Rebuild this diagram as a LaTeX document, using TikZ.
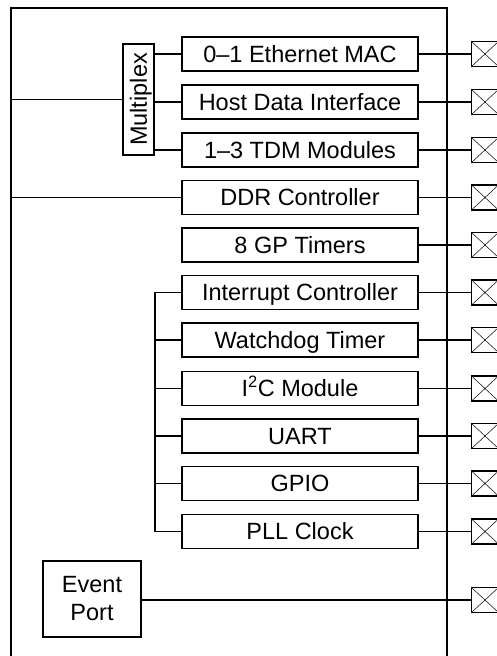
\documentclass[tikz,border=0pt]{standalone}
\usepackage{fontspec}
\setmainfont{Liberation Sans}
\begin{document}
\begin{tikzpicture}[x=1pt,y=-1pt,
  every path/.style={line width=1.7pt},
  lbl/.style={font=\fontsize{23.5}{28}\selectfont},
  mod/.style={draw, lbl, line width=1.7pt, minimum width=236pt, minimum height=34pt,
    inner sep=0pt, text height=16.8pt, text depth=0pt},
  pin/.style={draw, line width=1.5pt, minimum width=27pt, minimum height=25pt, inner sep=0pt,
    path picture={\draw[line width=0.5pt]
      (path picture bounding box.north west) -- (path picture bounding box.south east)
      (path picture bounding box.south west) -- (path picture bounding box.north east);}}]
\useasboundingbox (0,0) rectangle (496,656);

% device outline (open at the bottom)
\draw (11,656) -- (11,8) -- (447,8) -- (447,656);

% peripheral modules
\node[mod] (eth)  at (300,54)    {0--1 Ethernet MAC};
\node[mod] (host) at (300,102)   {Host Data Interface};
\node[mod] (tdm)  at (300,150)   {1--3 TDM Modules};
\node[mod] (ddr)  at (300,197.5) {DDR Controller};
\node[mod] (gpt)  at (300,245)   {8 GP Timers};
\node[mod] (irq)  at (300,292.5) {Interrupt Controller};
\node[mod] (wdt)  at (300,340)   {Watchdog Timer};
\node[mod] (iic)  at (300,388.5) {I\textsuperscript{2}C Module};
\node[mod] (uart) at (300,436)   {UART};
\node[mod] (gpio) at (300,483.5) {GPIO};
\node[mod] (pll)  at (300,531.5) {PLL Clock};

% multiplexer
\node[draw, lbl, rotate=90, minimum width=111pt, minimum height=31pt, inner sep=0pt,
  text height=16.8pt, text depth=0pt] (mux) at (138.5,99.5) {Multiplex};

% event port
\node[draw, lbl, minimum width=98pt, minimum height=76pt, inner sep=0pt,
  align=center] (ev) at (92,599) {Event\\Port};

% pins (cut by the right edge of the page)
\foreach \m/\y in {eth/54, host/102, tdm/150, ddr/197.5, gpt/245, irq/292.5,
                   wdt/340, iic/388.5, uart/436, gpio/483.5, pll/531.5, ev/600}
  \node[pin] (pin-\m) at (485,\y) {};

% module to pin connections
\foreach \m in {eth, host, tdm, ddr, gpt, irq, wdt, iic, uart, gpio, pll}
  \draw (\m.east) -- (pin-\m.west);
\draw (ev.east |- pin-ev.west) -- (pin-ev.west);

% multiplexer connections
\coordinate (lmux) at (11,99.5);
\draw (lmux) -- (mux.north);
\foreach \m in {eth, host, tdm}
  \draw (\m.west) -- (\m.west -| mux.south);

% DDR connection
\coordinate (lddr) at (11,197.5);
\draw (lddr) -- (ddr.west);

% internal bus
\coordinate (bus) at (155,0);
\draw (irq.west) -- (irq.west -| bus) -- (pll.west -| bus) -- (pll.west);
\foreach \m in {wdt, iic, uart, gpio}
  \draw (\m.west) -- (\m.west -| bus);
\end{tikzpicture}
\end{document}
